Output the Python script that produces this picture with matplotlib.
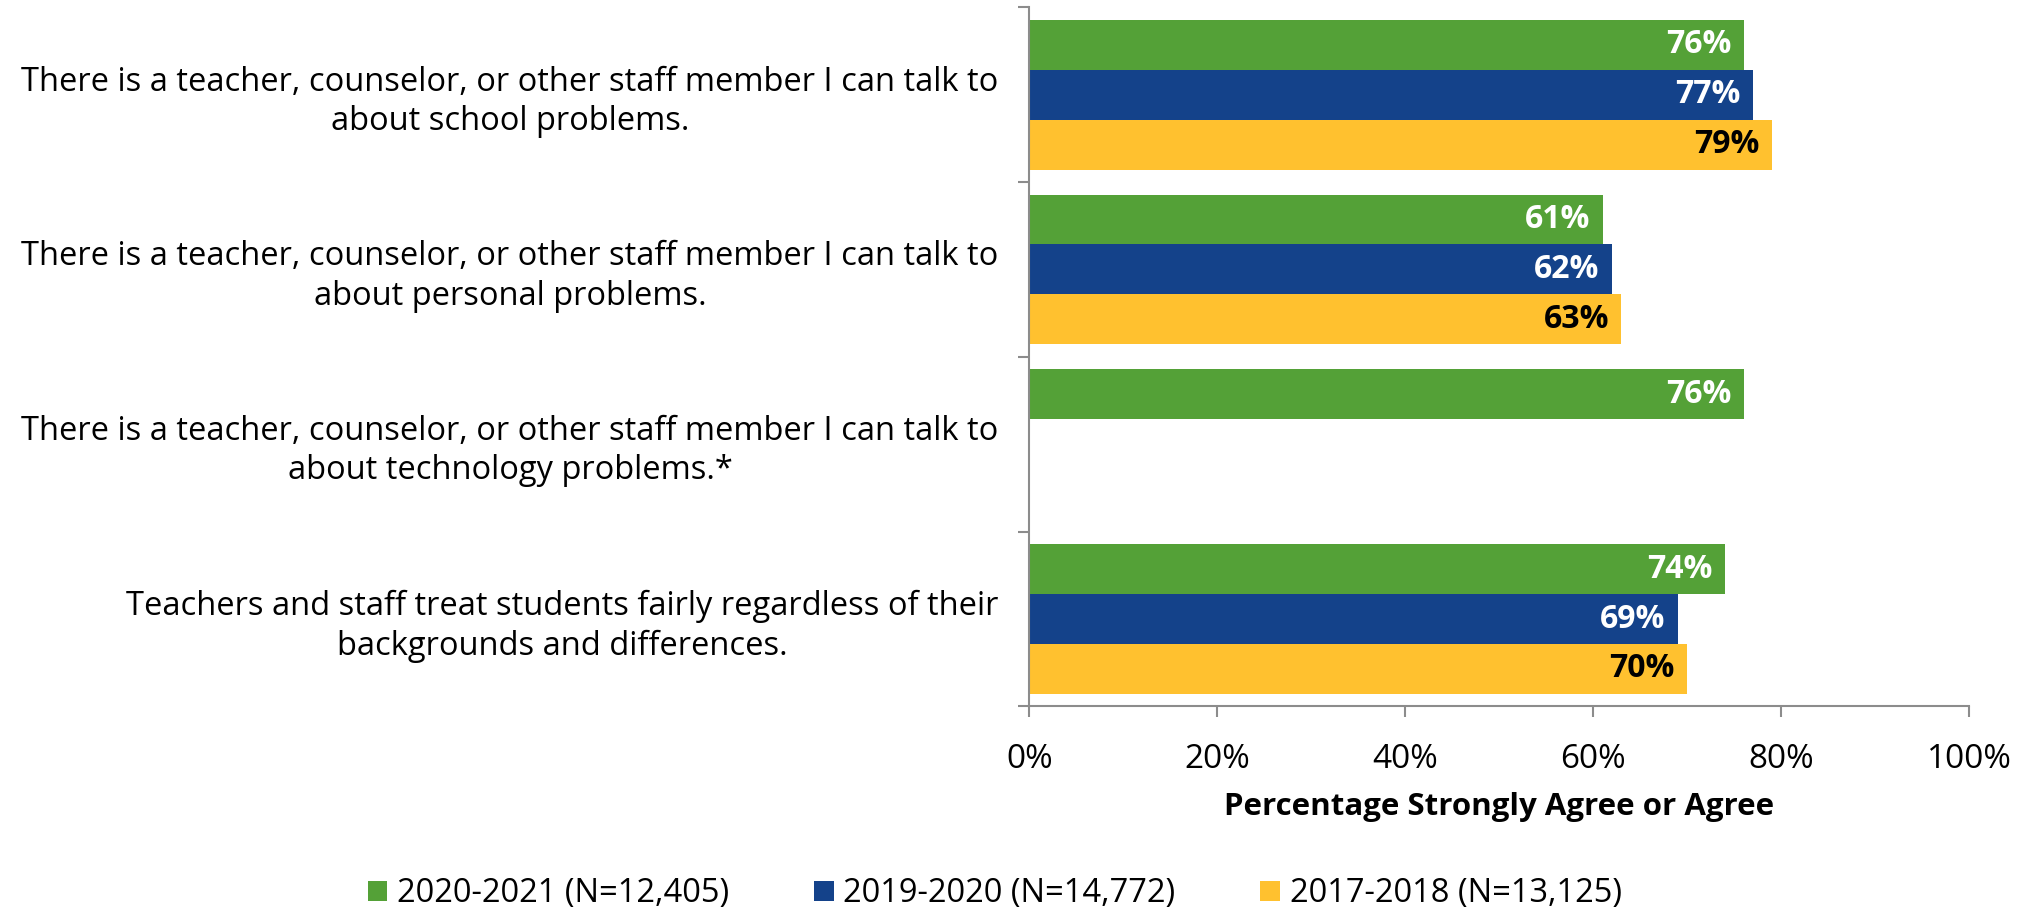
import matplotlib.pyplot as plt
import numpy as np
from matplotlib.ticker import FuncFormatter

plt.rcParams['font.family'] = ['Open Sans', 'DejaVu Sans']

# Survey items (top to bottom)
items = [
    'There is a teacher, counselor, or other staff member I can talk to\nabout school problems.',
    'There is a teacher, counselor, or other staff member I can talk to\nabout personal problems.',
    'There is a teacher, counselor, or other staff member I can talk to\nabout technology problems.*',
    'Teachers and staff treat students fairly regardless of their\nbackgrounds and differences.',
]
series_names = ['2020-2021 (N=12,405)', '2019-2020 (N=14,772)', '2017-2018 (N=13,125)']
vals_2021 = [76, 61, 76, 74]
vals_2020 = [77, 62, np.nan, 69]
vals_2018 = [79, 63, np.nan, 70]
colors = ['#54A137', '#14428A', '#FFC12F']
label_colors = ['white', 'white', 'black']

fig = plt.figure(figsize=(20.3, 9.08), dpi=100)
ax = fig.add_axes([0.507, 0.222, 0.463, 0.770])

bar_h = 50 / 175
y = np.arange(len(items))
for k, (vals, c, lc, name) in enumerate(zip([vals_2021, vals_2020, vals_2018],
                                             colors, label_colors, series_names)):
    pos = y + (k - 1) * bar_h
    ax.barh(pos, vals, height=bar_h, color=c, label=name)
    for p, v in zip(pos, vals):
        if np.isnan(v):
            continue
        ax.text(v - 1.3, p, f'{v:.0f}%', ha='right', va='center',
                color=lc, fontsize=23, fontweight='bold')

ax.set_xlim(0, 100)
ax.set_ylim(len(items) - 0.5, -0.5)
ax.set_xticks(np.arange(0, 101, 20))
ax.xaxis.set_major_formatter(FuncFormatter(lambda x, _: f'{x:.0f}%'))
ax.set_yticks(y)
ax.set_yticklabels(items, fontsize=23.5, multialignment='center', linespacing=1.25)
ax.set_yticks(np.arange(-0.5, len(items)), minor=True)
ax.tick_params(axis='y', which='major', length=0, pad=22)
ax.tick_params(axis='y', which='minor', length=8, color='#8c8c8c', width=1.5)
ax.tick_params(axis='x', length=8, color='#8c8c8c', width=1.5, labelsize=24, pad=18)

for s in ['top', 'right']:
    ax.spines[s].set_visible(False)
for s in ['left', 'bottom']:
    ax.spines[s].set_color('#8c8c8c')
    ax.spines[s].set_linewidth(1.5)

ax.set_xlabel('Percentage Strongly Agree or Agree', fontsize=22.5, fontweight='bold', labelpad=12)

fig.legend(loc='lower center', bbox_to_anchor=(0.49, -0.035), ncol=3, frameon=False,
           fontsize=23.5, handlelength=0.6, handleheight=0.6, handletextpad=0.3,
           columnspacing=2.6)

fig.savefig('out.png', dpi=100)
